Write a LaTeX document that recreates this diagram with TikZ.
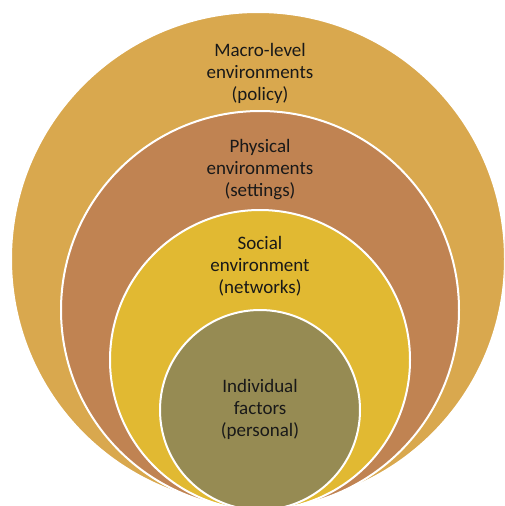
\documentclass[tikz,border=0pt]{standalone}
\usepackage{fontspec}
\setmainfont{Carlito}
\definecolor{macrocol}{RGB}{217,168,78}
\definecolor{physcol}{RGB}{192,131,82}
\definecolor{socialcol}{RGB}{225,185,50}
\definecolor{indivcol}{RGB}{150,139,83}
\begin{document}
\begin{tikzpicture}[x=1pt,y=-1pt,
        ring/.style={circle,draw=white,line width=2pt,inner sep=0pt},
        label text/.style={align=center,text=black!90,font=\fontsize{19}{22}\selectfont}]
        \clip (0,0) rectangle (504,506);
        \node[ring,fill=macrocol,minimum size=494] (macro) at (258,259) {};
        \node[ring,fill=physcol,minimum size=398] (phys) at (260,310) {};
        \node[ring,fill=socialcol,minimum size=300] (social) at (260,360) {};
        \node[ring,fill=indivcol,minimum size=200] (indiv) at (260,410) {};
        \node[label text] (macrotxt) at (260,73) {Macro-level\\environments\\(policy)};
        \node[label text] (phystxt) at (260,170) {Physical\\environments\\(settings)};
        \node[label text] (socialtxt) at (260,266) {Social\\environment\\(networks)};
        \node[label text] (indivtxt) at (260,409) {Individual\\factors\\(personal)};
    \end{tikzpicture}
\end{document}
